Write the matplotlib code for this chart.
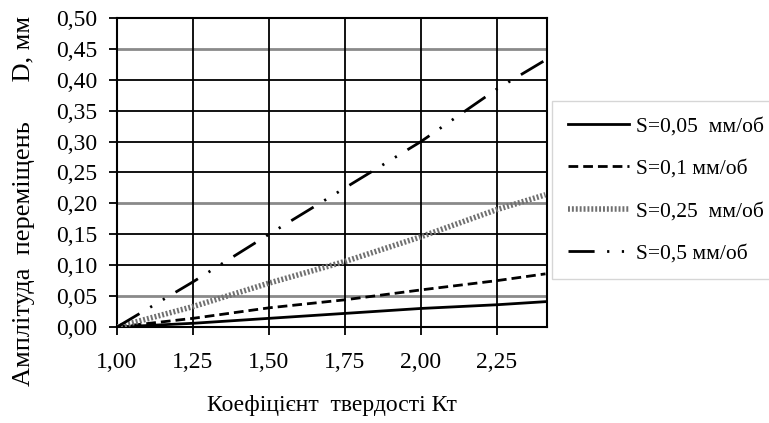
import matplotlib
matplotlib.use("Agg")
import matplotlib.pyplot as plt
from matplotlib.ticker import FuncFormatter

plt.rcParams['font.family'] = ['Liberation Serif', 'DejaVu Serif']

# Hardness coefficient Kt
kt = [1.00, 1.25, 1.50, 1.75, 2.00, 2.25, 2.41]

# Displacement amplitude D, mm, per feed rate S
d_005 = [0.000, 0.006, 0.014, 0.022, 0.030, 0.036, 0.041]
d_01 = [0.000, 0.014, 0.031, 0.044, 0.060, 0.075, 0.086]
d_025 = [0.000, 0.033, 0.071, 0.106, 0.146, 0.190, 0.214]
d_05 = [0.000, 0.073, 0.150, 0.225, 0.300, 0.385, 0.432]

labels = ["S=0,05  мм/об", "S=0,1 мм/об", "S=0,25  мм/об", "S=0,5 мм/об"]

x_ticks = [1.00, 1.25, 1.50, 1.75, 2.00, 2.25]
y_ticks = [0.00, 0.05, 0.10, 0.15, 0.20, 0.25, 0.30, 0.35, 0.40, 0.45, 0.50]
soft_rows = [0.05, 0.20, 0.45]

fig = plt.figure(figsize=(7.69, 4.23), dpi=100)
ax = fig.add_axes([117 / 769, 1 - 327 / 423, (547 - 117) / 769, (327 - 18) / 423])

# grid
for y in y_ticks:
    if y in soft_rows:
        ax.axhline(y, color='#8a8a8a', lw=2.0, zorder=1)
    else:
        ax.axhline(y, color='black', lw=1.3, zorder=1)
for x in x_ticks[1:]:
    ax.axvline(x, color='black', lw=1.3, zorder=1)

ax.plot(kt, d_005, color='black', lw=2.0, label=labels[0], zorder=3)
ax.plot(kt, d_01, color='black', lw=2.0, ls=(0, (3.5, 1.8)), label=labels[1], zorder=3)
ax.plot(kt, d_025, color='#707070', lw=4.0, ls=(0, (0.35, 0.35)), label=labels[2], zorder=3)
ax.plot(kt, d_05, color='black', lw=2.0, ls=(0, (9.4, 4.5, 0.8, 4.5, 0.8, 4.5)),
        label=labels[3], zorder=3)

ax.set_xlim(1.0, 2.415)
ax.set_ylim(0.0, 0.5)
ax.set_xticks(x_ticks)
ax.set_yticks(y_ticks)
fmt = FuncFormatter(lambda v, p: f"{v:.2f}".replace('.', ','))
ax.xaxis.set_major_formatter(fmt)
ax.yaxis.set_major_formatter(fmt)
ax.tick_params(axis='both', direction='out', length=6, width=1.3, labelsize=17, colors='black')
ax.tick_params(axis='x', pad=12)
ax.tick_params(axis='y', pad=8)
for s in ax.spines.values():
    s.set_linewidth(1.5)
    s.set_color('black')

ax.set_xlabel("Коефіцієнт  твердості Кт", fontsize=17, labelpad=16)
fig.text(24 / 769, 1 - 201 / 423, "Амплітуда  переміщень      D, мм", rotation=90,
         fontsize=19, ha='center', va='center')

leg = fig.legend(loc='upper left', bbox_to_anchor=(552 / 769, 1 - 101 / 423),
                 borderaxespad=0, frameon=True, fontsize=15.5, handlelength=2.85,
                 labelspacing=1.03, borderpad=0.72, handletextpad=0.33, fancybox=False)
leg.get_frame().set_edgecolor('#cccccc')
leg.get_frame().set_linewidth(1.0)

fig.savefig("out.png", dpi=100)
